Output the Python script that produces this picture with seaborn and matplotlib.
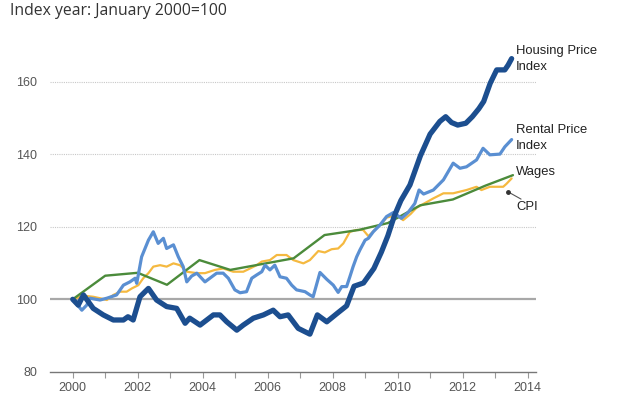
#!/usr/bin/env python3
"""Housing, rental, wages and CPI indices, January 2000 = 100."""

import matplotlib as mpl
import matplotlib.pyplot as plt
import pandas as pd
import seaborn as sns

mpl.use('Agg')

# Housing Price Index
HPI_YEAR = [2000.0, 2000.17, 2000.33, 2000.63, 2000.94, 2001.25, 2001.56, 2001.7,
            2001.86, 2002.07, 2002.33, 2002.58, 2002.89, 2003.2, 2003.46, 2003.6,
            2003.92, 2004.33, 2004.53, 2004.74, 2005.05, 2005.25, 2005.56, 2005.87,
            2006.17, 2006.38, 2006.63, 2006.94, 2007.3, 2007.53, 2007.82, 2008.15,
            2008.43, 2008.66, 2008.95, 2009.27, 2009.5, 2009.7, 2009.9, 2010.1,
            2010.38, 2010.7, 2011.0, 2011.3, 2011.48, 2011.66, 2011.85, 2012.1,
            2012.3, 2012.5, 2012.65, 2012.85, 2013.05, 2013.3, 2013.4, 2013.51]
HPI_VALUE = [100, 98.4, 101.2, 97.5, 95.7, 94.3, 94.3, 95.2,
             94.3, 100.7, 103, 99.8, 98, 97.5, 93.4, 94.8,
             92.9, 95.7, 95.7, 93.8, 91.5, 92.9, 94.8, 95.7,
             97, 95.2, 95.7, 92, 90.4, 95.7, 93.8, 96.2,
             98.2, 103.6, 104.5, 108.5, 113, 117.5, 123, 127.2,
             131.5, 139.5, 145.5, 149, 150.3, 148.7, 148, 148.5,
             150.3, 152.5, 154.5, 159.5, 163.2, 163.2, 164.5, 166.3]

# Rental Price Index
RPI_YEAR = [2000.0, 2000.28, 2000.43, 2000.53, 2000.84, 2001.05, 2001.35, 2001.56,
            2001.76, 2001.92, 2001.97, 2002.12, 2002.33, 2002.48, 2002.63, 2002.79,
            2002.89, 2003.1, 2003.25, 2003.4, 2003.51, 2003.66, 2003.82, 2004.07,
            2004.43, 2004.63, 2004.79, 2004.99, 2005.15, 2005.35, 2005.51, 2005.66,
            2005.82, 2005.92, 2006.07, 2006.22, 2006.38, 2006.58, 2006.74, 2006.89,
            2007.15, 2007.3, 2007.4, 2007.61, 2007.82, 2008.02, 2008.17, 2008.28,
            2008.43, 2008.53, 2008.63, 2008.74, 2008.84, 2009.0, 2009.1, 2009.25,
            2009.46, 2009.66, 2009.87, 2010.12, 2010.33, 2010.53, 2010.66, 2010.8,
            2011.1, 2011.41, 2011.71, 2011.92, 2012.12, 2012.43, 2012.63, 2012.84,
            2013.15, 2013.3, 2013.51]
RPI_VALUE = [100, 97, 98.4, 100.3, 99.8, 100.3, 101.2, 103.9,
             104.8, 105.8, 104.4, 111.7, 116.3, 118.6, 115.4, 116.8,
             114, 115, 111.7, 109, 104.8, 106.4, 107.2, 104.8,
             107.2, 107.2, 105.8, 102.6, 101.8, 102.1, 105.8, 106.7,
             107.6, 109.4, 108.1, 109.4, 106.2, 105.8, 103.9, 102.6,
             102.1, 101.2, 100.7, 107.4, 105.5, 103.9, 101.9, 103.5,
             103.5, 106.2, 109, 111.7, 113.6, 116.3, 116.8, 118.6,
             120.5, 122.8, 123.9, 122.3, 124, 126.4, 130.1, 129,
             130.1, 132.9, 137.5, 136.1, 136.5, 138.4, 141.6, 139.8,
             140, 142, 144]

# Consumer Price Index
CPI_YEAR = [2000.0, 2000.33, 2000.63, 2000.84, 2001.05, 2001.25, 2001.46, 2001.66,
            2001.82, 2002.02, 2002.17, 2002.33, 2002.48, 2002.69, 2002.89, 2003.1,
            2003.3, 2003.51, 2003.82, 2004.07, 2004.38, 2004.63, 2004.94, 2005.25,
            2005.46, 2005.66, 2005.82, 2006.07, 2006.28, 2006.58, 2006.79, 2007.1,
            2007.3, 2007.56, 2007.76, 2007.97, 2008.17, 2008.33, 2008.53, 2008.74,
            2008.94, 2009.1, 2009.46, 2009.66, 2009.97, 2010.17, 2010.4, 2010.58,
            2011.1, 2011.41, 2011.71, 2012.12, 2012.43, 2012.58, 2012.84, 2013.25,
            2013.35, 2013.51]
CPI_VALUE = [100, 101, 100.7, 100.3, 99.8, 101.2, 102.1, 102.1,
             103, 103.9, 105.8, 107.2, 109, 109.4, 109, 109.9,
             109.4, 107.6, 107.2, 107.2, 108.1, 108.5, 107.6, 107.6,
             108.5, 109.4, 110.4, 110.8, 112.2, 112.2, 110.8, 109.9,
             110.8, 113.3, 112.9, 113.8, 114, 115.4, 118.6, 119.1,
             119.1, 117.4, 120.5, 122.5, 123.2, 121.8, 123.5, 125.2,
             127.8, 129.2, 129.2, 130.1, 131, 130.1, 131, 131,
             131.8, 133.3]

# Wages
WAGE_YEAR = [2000.0, 2001.0, 2002.0, 2002.9, 2003.9, 2004.85, 2006.8, 2007.75,
             2008.8, 2009.7, 2010.7, 2011.7, 2012.7, 2013.55]
WAGE_VALUE = [100, 106.5, 107.3, 104, 110.8, 108.1, 111.3, 117.7,
              119.1, 121, 125.9, 127.5, 131.3, 134.2]

YEAR_TICKS = list(range(2000, 2015, 2))
VALUE_TICKS = [80, 100, 120, 140, 160]

sns.set_theme(style="white")
plt.rcParams['font.family'] = ['Liberation Sans', 'DejaVu Sans']

SERIES = [
    ("CPI", CPI_YEAR, CPI_VALUE, "#f5b940", 1.6),
    ("Wages", WAGE_YEAR, WAGE_VALUE, "#4b8b3b", 1.7),
    ("Rental Price Index", RPI_YEAR, RPI_VALUE, "#5a8fd2", 2.3),
    ("Housing Price Index", HPI_YEAR, HPI_VALUE, "#1c4e8f", 3.8),
]


def main():
    fig = plt.figure(figsize=(6.4, 4), dpi=100)
    ax = fig.add_axes([50 / 640, 1 - 371.9 / 400, 486 / 640, 326.7 / 400])

    # Reference lines
    for v in VALUE_TICKS[2:]:
        ax.axhline(v, color="#c8c8c8", lw=0.8, ls=(0, (1, 1)), zorder=0)
    ax.axhline(100, color="#a8a8a8", lw=1.6, zorder=0)

    for name, xs, ys, color, lw in SERIES:
        df = pd.DataFrame({"year": xs, "value": ys})
        sns.lineplot(data=df, x="year", y="value", ax=ax, color=color,
                     linewidth=lw, sort=False, estimator=None,
                     solid_joinstyle="round", solid_capstyle="round")

    # Axes aesthetics
    ax.set_xlim(1999.30, 2014.26)
    ax.set_ylim(80, 170)
    ax.set_xticks(YEAR_TICKS)
    ax.set_xticks(range(2001, 2014, 2), minor=True)
    ax.set_yticks(VALUE_TICKS)
    ax.set(xlabel="", ylabel="")
    for side in ["left", "right", "top"]:
        ax.spines[side].set_visible(False)
    ax.spines["bottom"].set_color("#777777")
    ax.spines["bottom"].set_linewidth(1.0)
    ax.tick_params(axis="x", which="both", bottom=True, length=4, width=0.8,
                   color="#999999", labelsize=9, labelcolor="#555555", pad=3)
    ax.tick_params(axis="y", left=False, labelsize=9, labelcolor="#555555", pad=3)
    ax.grid(False)

    # Series labels
    lab = dict(fontsize=9.4, color="#222222", va="top", ha="left", linespacing=1.45)
    fig.text(516 / 640, 1 - 45 / 400, "Housing Price\nIndex", **lab)
    fig.text(516 / 640, 1 - 124 / 400, "Rental Price\nIndex", **lab)
    fig.text(516 / 640, 1 - 166 / 400, "Wages", **lab)
    fig.text(516 / 640, 1 - 201 / 400, "CPI", **lab)
    # CPI leader
    ax.plot([2013.4, 2013.8], [129.6, 127.6], color="#555555", lw=0.8,
            clip_on=False)
    ax.plot([2013.4], [129.6], "o", color="#333333", ms=2.5, clip_on=False)

    fig.text(10 / 640, 1 - 3 / 400, "Index year: January 2000=100",
             fontsize=11.3, color="#333333", va="top", ha="left",
             family=["Open Sans", "DejaVu Sans"])

    fig.savefig("out.png", dpi=100)
    plt.close(fig)


if __name__ == '__main__':
    main()
